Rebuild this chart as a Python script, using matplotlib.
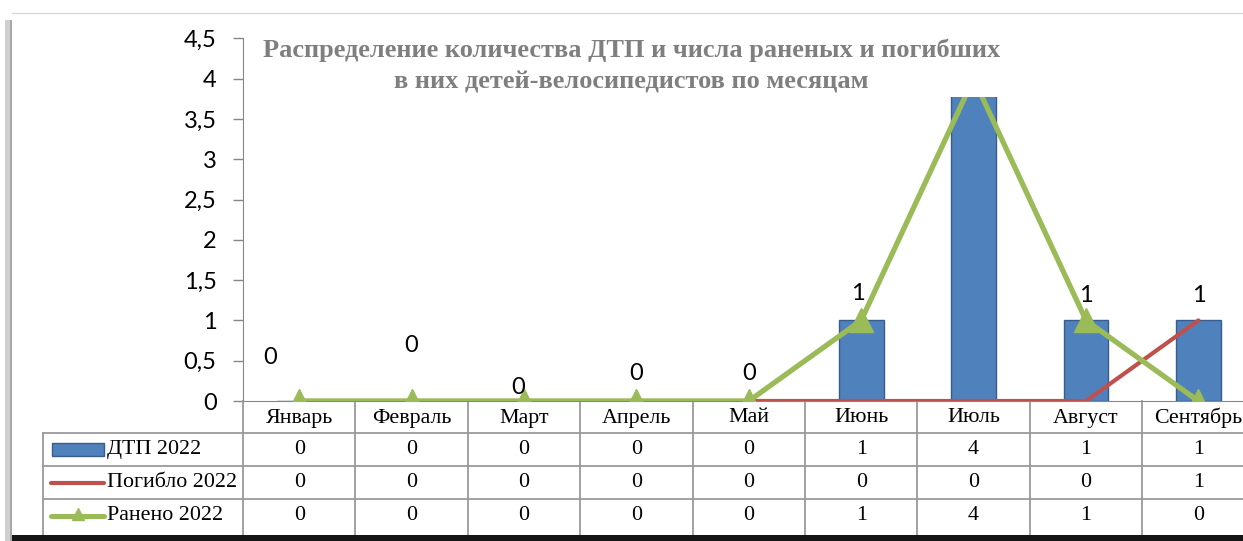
import numpy as np
import matplotlib
matplotlib.use("Agg")
import matplotlib.pyplot as plt
from matplotlib.transforms import blended_transform_factory
from matplotlib.patches import Rectangle
from matplotlib.lines import Line2D

# --- DATA ---
MONTHS = ["Январь", "Февраль", "Март", "Апрель", "Май",
          "Июнь", "Июль", "Август", "Сентябрь"]
DTP = [0, 0, 0, 0, 0, 1, 4, 1, 1]
KILLED = [0, 0, 0, 0, 0, 0, 0, 0, 1]
INJURED = [0, 0, 0, 0, 0, 1, 4, 1, 0]
SERIES_NAMES = ["ДТП 2022", "Погибло 2022", "Ранено 2022"]
TITLE_LINES = ["Распределение количества ДТП и числа раненых и погибших",
               "в них детей-велосипедистов по месяцам"]

# label offsets (px) for the bar value labels, moved by hand in the original
LABEL_DX = [-29, 0, -6, 0, 0, -3, 0, 0, 0]
LABEL_DY = [44, 56, 14, 28, 28, 27, 27, 25, 25]

BLUE = "#4F81BD"
RED = "#C0504D"
GREEN = "#9BBB59"
GRID = "#9a9a9a"
SERIF = "Liberation Serif"
SANS = "Lato"
TAB_FS = 15.8
NUM_FS = 17

W, H = 1243, 541
fig = plt.figure(figsize=(W / 100, H / 100), dpi=100)
fig.patch.set_facecolor("white")

# axes geometry in pixels
AX_L, AX_B, AX_T = 243, 401, 38.3
CAT_W = 112.4
ax = fig.add_axes([AX_L / W, (H - AX_B) / H, 9 * CAT_W / W, (AX_B - AX_T) / H])

x = np.arange(len(MONTHS))
ax.bar(x, DTP, width=0.4, color=BLUE, edgecolor="#385D8A", linewidth=1, zorder=2)
ax.plot(x, KILLED, color=RED, lw=3, zorder=3, solid_capstyle="round")
ax.plot(x, INJURED, color=GREEN, lw=3.8, marker="^", ms=17, zorder=4,
        solid_capstyle="round")

# top of plot area is hidden behind the title box (from y ~3.77 up)
CUT = (AX_B - 97) / 80.6
for i, v in enumerate(DTP):
    if v > CUT:
        continue  # label sits under the title box, not visible in the original
    ax.annotate(str(v), (i, v), xytext=(LABEL_DX[i] * 0.72, LABEL_DY[i] * 0.72),
                textcoords="offset points", ha="center", va="center",
                fontsize=NUM_FS, family=SANS, zorder=5)

ax.set_xlim(-0.5, 8.5)
ax.set_ylim(0, 4.5)
ticks = np.arange(0, 4.51, 0.5)
ax.set_yticks(ticks)
ax.set_yticklabels([f"{t:g}".replace(".", ",") for t in ticks], family=SANS, fontsize=NUM_FS)
ax.set_xticks([])
ax.tick_params(axis="y", length=7, color="#868686", width=1, pad=12)
for s in ["top", "right"]:
    ax.spines[s].set_visible(False)
ax.spines["left"].set_color("#868686")
ax.spines["bottom"].set_color("#868686")

# white box behind the title cuts off the top of the plot area
ax.add_patch(Rectangle((-0.47, CUT), 9.5, 1.2, facecolor="white",
                       edgecolor="none", zorder=10, clip_on=False))

# --- data table under the axis ---
trans = blended_transform_factory(ax.transData, ax.transAxes)


def fy(py):
    return (AX_B - py) / (AX_B - AX_T)


def fx(px):
    return -0.5 + (px - AX_L) / CAT_W


tab_bottom = 535
for k in range(10):
    ax.add_line(Line2D([k - 0.5, k - 0.5], [0, fy(tab_bottom)], color=GRID, lw=1.3,
                       transform=trans, clip_on=False))
ax.add_line(Line2D([fx(43), fx(43)], [fy(433), fy(tab_bottom)], color=GRID, lw=1.3,
                   transform=trans, clip_on=False))
for py in [433, 466, 499]:
    ax.add_line(Line2D([fx(43), 8.5], [fy(py), fy(py)], color=GRID, lw=1.3,
                       transform=trans, clip_on=False))

for i, m in enumerate(MONTHS):
    ax.text(i, fy(418), m, transform=trans, ha="center", va="center",
            family=SERIF, fontsize=TAB_FS, clip_on=False)

row_y = [449.5, 482.5, 515.5]
for vals, py in zip([DTP, KILLED, INJURED], row_y):
    for i, v in enumerate(vals):
        ax.text(i, fy(py), str(v), transform=trans, ha="center", va="center",
                family=SERIF, fontsize=TAB_FS, clip_on=False)

# legend keys in the row headers
ax.add_patch(Rectangle((fx(52), fy(456)), fx(104) - fx(52), fy(443) - fy(456),
                       facecolor=BLUE, edgecolor="#385D8A", lw=1, transform=trans,
                       clip_on=False))
ax.add_line(Line2D([fx(51), fx(104)], [fy(483), fy(483)], color=RED, lw=3,
                   solid_capstyle="round", transform=trans, clip_on=False))
ax.add_line(Line2D([fx(51), fx(104)], [fy(516), fy(516)], color=GREEN, lw=3.6,
                   solid_capstyle="round", transform=trans, clip_on=False))
ax.add_line(Line2D([fx(78)], [fy(514)], color=GREEN, marker="^", ms=8,
                   transform=trans, clip_on=False))
for name, py in zip(SERIES_NAMES, row_y):
    ax.text(fx(107), fy(py), name, transform=trans, ha="left", va="center",
            family=SERIF, fontsize=TAB_FS, clip_on=False)

# title
fig.text(632 / W, 1 - 50 / H, TITLE_LINES[0], ha="center", va="center",
         family=SERIF, fontsize=19, weight="bold", color="#7f7f7f", zorder=20)
fig.text(631 / W, 1 - 82 / H, TITLE_LINES[1], ha="center", va="center",
         family=SERIF, fontsize=19, weight="bold", color="#7f7f7f", zorder=20)

# frame / shadow around the picture
fig.add_artist(Line2D([12 / W, 1], [1 - 13 / H, 1 - 13 / H], color="#d9d9d9", lw=1))
fig.add_artist(Rectangle((5 / W, 0), 7 / W, 1 - 20 / H, facecolor="#d0d0d0",
                         edgecolor="none"))
fig.add_artist(Rectangle((10 / W, 0), 2 / W, 1 - 20 / H, facecolor="#a8a8a8",
                         edgecolor="none"))
fig.add_artist(Rectangle((12 / W, 0), 1, 6 / H, facecolor="#151515", edgecolor="none"))

fig.savefig("out.png", dpi=100)
